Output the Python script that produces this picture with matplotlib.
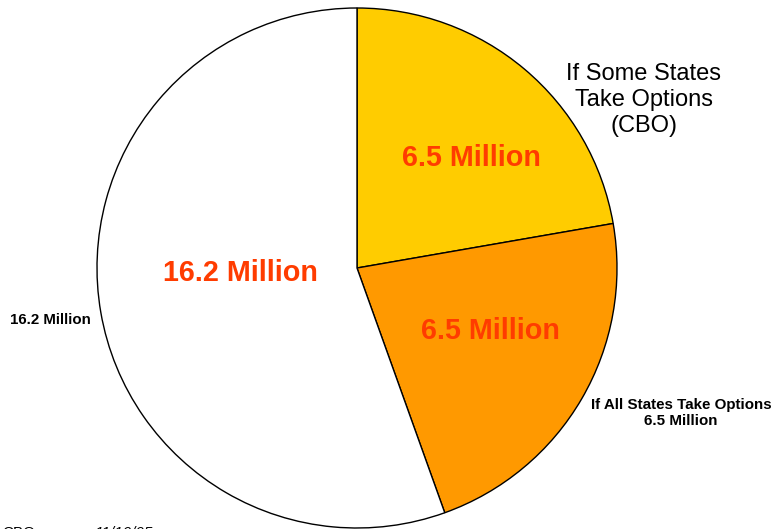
import matplotlib.pyplot as plt

# Data
slices = ["If Some States Take Options (CBO)", "If All States Take Options", "Remaining"]
values = [6.5, 6.5, 16.2]
colors = ["#FFCC00", "#FF9900", "#FFFFFF"]
inner_labels = ["6.5 Million", "6.5 Million", "16.2 Million"]

plt.rcParams['font.family'] = ['Liberation Sans', 'DejaVu Sans']

W, H = 775, 529
fig = plt.figure(figsize=(W / 100, H / 100), dpi=100)
ax = fig.add_axes([0, 0, 1, 1])
ax.set_xlim(0, W)
ax.set_ylim(0, H)
ax.axis("off")

# pixel helper (y measured from top)
def py(y):
    return H - y

ax.pie(values, colors=colors, startangle=90, counterclock=False,
       center=(357, py(268)), radius=260,
       wedgeprops=dict(edgecolor="black", linewidth=1.0))
ax.set_xlim(0, W)
ax.set_ylim(0, H)
ax.set_aspect("equal")

# ---- values inside slices ----
label_pos = [(471, 158), (490, 331), (240, 273)]
for (x, y), txt in zip(label_pos, inner_labels):
    ax.text(x, py(y), txt, ha="center", va="center", fontsize=20.7,
            fontweight="bold", color="#FF3C00")

# ---- outside labels ----
ax.text(644, py(100), "If Some States\nTake Options\n(CBO)", ha="center",
        va="center", fontsize=17, linespacing=1.25)
ax.text(681, py(413), "If All States Take Options\n" + inner_labels[1],
        ha="center", va="center", fontsize=10.9, fontweight="bold",
        linespacing=1.15)
ax.text(50, py(320), inner_labels[2], ha="center", va="center",
        fontsize=10.8, fontweight="bold")

# ---- source line (cut off at the bottom, as in the original) ----
ax.text(2, py(533), "CBO", ha="left", va="center", fontsize=11)
ax.text(95, py(533), "11/10/05", ha="left", va="center", fontsize=11,
        style="italic")

fig.savefig("out.png", dpi=100)
